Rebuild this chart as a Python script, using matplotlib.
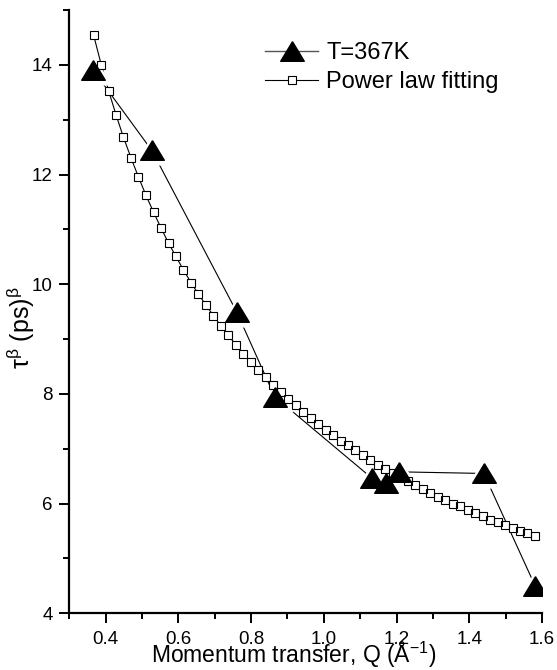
import numpy as np
import matplotlib
matplotlib.use("Agg")
import matplotlib.pyplot as plt
from matplotlib.ticker import MultipleLocator, FormatStrFormatter

plt.rcParams['font.family'] = ['Liberation Sans', 'DejaVu Sans']
plt.rcParams['mathtext.fontset'] = 'custom'
plt.rcParams['mathtext.rm'] = 'Liberation Sans'
plt.rcParams['mathtext.it'] = 'Liberation Sans'

# measured points, T=367K
q_meas = [0.366, 0.527, 0.760, 0.865, 1.133, 1.171, 1.206, 1.440, 1.581]
tau_meas = [13.90, 12.44, 9.50, 7.95, 6.46, 6.38, 6.58, 6.55, 4.50]

# power law fitting curve
q_fit = [0.367, 0.388, 0.408, 0.429, 0.449, 0.470, 0.490, 0.511, 0.532, 0.552,
         0.573, 0.593, 0.614, 0.635, 0.655, 0.676, 0.696, 0.717, 0.737, 0.758,
         0.779, 0.799, 0.820, 0.840, 0.861, 0.881, 0.902, 0.923, 0.943, 0.964,
         0.984, 1.005, 1.025, 1.046, 1.067, 1.087, 1.108, 1.128, 1.149, 1.169,
         1.190, 1.211, 1.231, 1.252, 1.272, 1.293, 1.314, 1.334, 1.355, 1.375,
         1.396, 1.416, 1.437, 1.458, 1.478, 1.499, 1.519, 1.540, 1.560, 1.581]
tau_fit = [14.54, 14.00, 13.53, 13.08, 12.68, 12.30, 11.96, 11.62, 11.31, 11.03,
           10.75, 10.51, 10.26, 10.03, 9.82, 9.62, 9.43, 9.24, 9.07, 8.90,
           8.73, 8.59, 8.44, 8.30, 8.16, 8.04, 7.91, 7.79, 7.67, 7.56,
           7.46, 7.35, 7.25, 7.15, 7.06, 6.97, 6.88, 6.80, 6.71, 6.64,
           6.56, 6.48, 6.41, 6.34, 6.27, 6.20, 6.13, 6.07, 6.00, 5.95,
           5.89, 5.83, 5.77, 5.71, 5.66, 5.61, 5.56, 5.51, 5.46, 5.41]

tri = [(0, 0.83), (-1, -0.83), (1, -0.83), (0, 0.83)]

fig = plt.figure(figsize=(5.57, 6.70), dpi=100)
ax = fig.add_axes([0.1244, 0.0846, 0.8487, 0.9004])

# lines
ax.plot(q_fit, tau_fit, '-', color='black', lw=0.8, zorder=1)
ax.plot(q_meas, tau_meas, '-', color='black', lw=0.8, zorder=1)
# white halo round triangles so the line stops short of them
ax.plot(q_meas, tau_meas, linestyle='none', marker=tri, ms=25, mfc='white',
        mec='white', zorder=2)
# white square fill hides the fit line inside the squares
ax.plot(q_fit, tau_fit, linestyle='none', marker='s', ms=5.2, mfc='white',
        mec='none', zorder=3)
ax.plot(q_meas, tau_meas, linestyle='none', marker=tri, ms=17, mfc='black',
        mec='black', zorder=4)
ax.plot(q_fit, tau_fit, linestyle='none', marker='s', ms=5.2, mfc='none',
        mec='black', mew=0.8, zorder=5)

# legend proxies
h1, = ax.plot([], [], '-', color='#555555', lw=1.0, marker=tri, ms=17,
              mfc='black', mec='black', label='T=367K')
h2, = ax.plot([], [], '-', color='black', lw=0.8, marker='s', ms=5.2,
              mfc='white', mec='black', mew=0.8, label='Power law fitting')
ax.legend(handles=[h1, h2], loc='upper left', frameon=False, fontsize=17,
          numpoints=1, handlelength=2.25, handletextpad=0.35, labelspacing=0.3,
          borderpad=0, borderaxespad=0,
          bbox_to_anchor=(265 / 557, 1 - 42 / 670), bbox_transform=fig.transFigure)

ax.set_xlim(0.3, 1.6)
ax.set_ylim(4, 15)
ax.xaxis.set_major_locator(MultipleLocator(0.2))
ax.xaxis.set_minor_locator(MultipleLocator(0.1))
ax.yaxis.set_major_locator(MultipleLocator(2))
ax.yaxis.set_minor_locator(MultipleLocator(1))
ax.xaxis.set_major_formatter(FormatStrFormatter('%.1f'))

for s in ['top', 'right']:
    ax.spines[s].set_visible(False)
for s in ['left', 'bottom']:
    ax.spines[s].set_linewidth(1.6)

ax.tick_params(which='major', direction='out', length=7, width=1.4,
               labelsize=13.5, pad=5)
ax.tick_params(which='minor', direction='out', length=4, width=1.4)
ax.tick_params(axis='x', which='major', pad=5.5)

ax.set_xlabel(r'Momentum transfer, Q (Å$\mathregular{^{-1}}$)', fontsize=16.5)
ax.xaxis.label.set_va('baseline')
ax.xaxis.set_label_coords(0.475, -0.083)
ax.set_ylabel(r'$\mathregular{\tau^{\beta}\ (ps)^{\beta}}$', fontsize=18)
ax.yaxis.set_label_coords(-0.068, 0.473)

fig.savefig('out.png', dpi=100)
